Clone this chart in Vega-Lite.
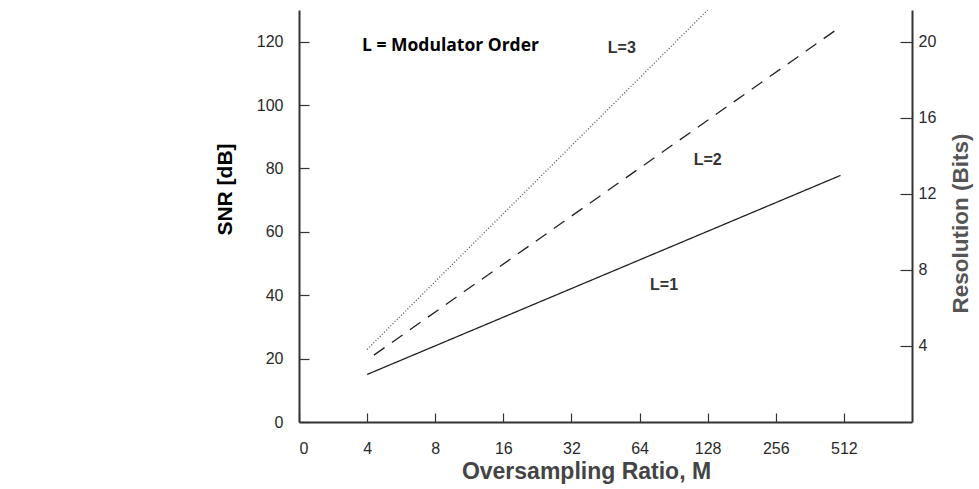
{
  "$schema": "https://vega.github.io/schema/vega-lite/v6.json",
  "autosize": "none",
  "width": 613,
  "height": 412,
  "padding": {"left": 299, "top": 10, "right": 67, "bottom": 67},
  "background": "white",
  "config": {
    "view": {"stroke": null},
    "font": "Liberation Sans",
    "axis": {"grid": false, "domainColor": "#333", "domainWidth": 2, "tickColor": "#333", "tickWidth": 1.2, "labelColor": "#2a2a2a", "labelFont": "Liberation Sans", "labelFontSize": 16, "titleFont": "Liberation Sans"}
  },
  "datasets": {
    "curves": [
      {"L": "L=1", "pos": 1.0, "snr": 15.0},
      {"L": "L=1", "pos": 7.95, "snr": 77.8},
      {"L": "L=2", "pos": 1.1, "snr": 21.1},
      {"L": "L=2", "pos": 7.95, "snr": 124.7},
      {"L": "L=3", "pos": 1.0, "snr": 22.9},
      {"L": "L=3", "pos": 6.0, "snr": 130.0}
    ],
    "labels": [
      {"label": "L=3", "pos": 4.74, "snr": 118.0},
      {"label": "L=2", "pos": 6.0, "snr": 82.7},
      {"label": "L=1", "pos": 5.36, "snr": 43.2}
    ],
    "heading": [
      {"label": "L = Modulator Order", "pos": 0.925, "snr": 118.6}
    ]
  },
  "layer": [
    {
      "data": {"name": "curves"},
      "mark": {"type": "line", "strokeWidth": 1.3, "clip": true},
      "encoding": {
        "x": {"field": "pos", "type": "quantitative", "scale": {"domain": [0, 9], "nice": false, "zero": false},
          "axis": {"title": "Oversampling Ratio, M", "values": [0, 1, 2, 3, 4, 5, 6, 7, 8],
            "labelExpr": "datum.value == 0 ? '0' : '' + pow(2, datum.value + 1)",
            "tickSize": -9, "labelPadding": 27, "titleFontSize": 23, "titleFontWeight": "bold", "titleColor": "#444",
            "titleX": 287, "titleY": 49, "titleBaseline": "middle", "titleAlign": "center"}},
        "y": {"field": "snr", "type": "quantitative", "scale": {"domain": [0, 130], "nice": false},
          "axis": {"title": "SNR [dB]", "orient": "left", "values": [0, 20, 40, 60, 80, 100, 120],
            "tickSize": -10, "labelPadding": 26, "titleFontSize": 21, "titleFontWeight": "bold", "titleColor": "#000",
            "titleAngle": -90, "titleX": -74, "titleY": 179, "titleBaseline": "middle", "titleAlign": "center"}},
        "strokeDash": {"field": "L", "type": "nominal", "scale": {"domain": ["L=1", "L=2", "L=3"], "range": [[1, 0], [13, 9], [1, 2]]}, "legend": null},
        "color": {"field": "L", "type": "nominal", "scale": {"domain": ["L=1", "L=2", "L=3"], "range": ["#222", "#222", "#555"]}, "legend": null}
      }
    },
    {
      "data": {"name": "labels"},
      "mark": {"type": "text", "fontSize": 16, "fontWeight": "bold", "color": "#333", "align": "center", "baseline": "middle"},
      "encoding": {
        "x": {"field": "pos", "type": "quantitative"},
        "y": {"field": "snr", "type": "quantitative",
          "axis": {"title": "Resolution (Bits)", "orient": "right", "values": [24, 48, 72, 96, 120],
            "labelExpr": "'' + round(datum.value / 6)",
            "tickSize": -12, "labelPadding": 18, "titleFontSize": 22.5, "titleFontWeight": "bold", "titleColor": "#555",
            "titleAngle": -90, "titleX": 48, "titleY": 213, "titleBaseline": "middle", "titleAlign": "center"}},
        "text": {"field": "label"}
      }
    },
    {
      "data": {"name": "heading"},
      "mark": {"type": "text", "font": "Open Sans", "fontSize": 17.5, "fontWeight": "bold", "color": "#000", "align": "left", "baseline": "middle"},
      "encoding": {
        "x": {"field": "pos", "type": "quantitative"},
        "y": {"field": "snr", "type": "quantitative", "axis": null},
        "text": {"field": "label"}
      }
    }
  ],
  "resolve": {"axis": {"y": "independent"}}
}
